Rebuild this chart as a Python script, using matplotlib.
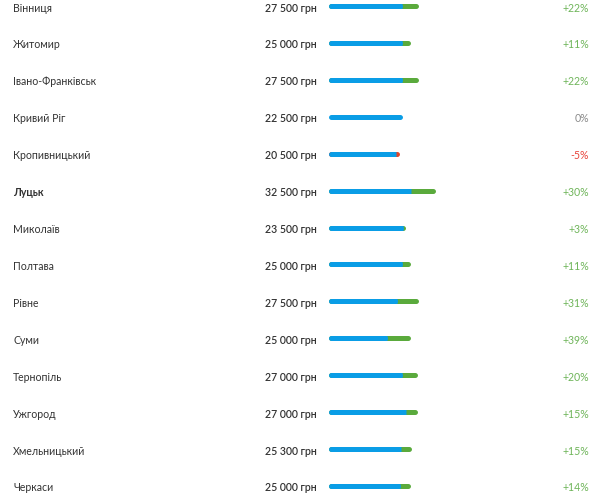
import matplotlib
matplotlib.use("Agg")
import matplotlib.pyplot as plt

plt.rcParams["font.family"] = ["Lato", "DejaVu Sans"]

cities = ["Вінниця", "Житомир", "Івано-Франківськ", "Кривий Ріг", "Кропивницький",
          "Луцьк", "Миколаїв", "Полтава", "Рівне", "Суми", "Тернопіль", "Ужгород",
          "Хмельницький", "Черкаси"]
salaries = [27500, 25000, 27500, 22500, 20500, 32500, 23500, 25000, 27500, 25000,
            27000, 27000, 25300, 25000]
prev_salaries = [22500, 22500, 22500, 22500, 21600, 25000, 22800, 22500, 21000, 18000,
                 22500, 23500, 22000, 21900]
changes = [22, 11, 22, 0, -5, 30, 3, 11, 31, 39, 20, 15, 15, 14]
highlight = "Луцьк"

BLUE = "#0a9de6"
GREEN = "#5aaa3c"
RED = "#e0452b"

W, H = 600, 502
PX = 0.0033          # px per грн
X0 = 328             # px where bars start
ROW0, STEP = 7, 36.92

fig = plt.figure(figsize=(W / 100, H / 100), dpi=100)
fig.patch.set_facecolor("white")
ax = fig.add_axes([0, 0, 1, 1])
ax.set_xlim(-X0 / PX, (W - X0) / PX)
ax.set_ylim((H - ROW0) / STEP, -ROW0 / STEP)
ax.axis("off")

lw = 5 * 72 / 100           # bar thickness in points
r = 2.5 / PX                # cap radius in грн
trans = ax.get_yaxis_transform()
fs = 7.6

for i, (city, cur, prev, ch) in enumerate(zip(cities, salaries, prev_salaries, changes)):
    bold = city == highlight
    ax.text(13 / W, i, city, transform=trans, ha="left", va="center_baseline",
            fontsize=fs, color="#333333", weight="bold" if bold else "normal")
    ax.text(317 / W, i, f"{cur:,} грн".replace(",", " "), transform=trans,
            ha="right", va="center_baseline", fontsize=fs, color="#333333",
            weight="semibold")

    lo, hi = min(cur, prev), max(cur, prev)
    accent = GREEN if cur >= prev else RED
    if ch == 0:
        ax.plot([r, cur - r], [i, i], color=BLUE, lw=lw, solid_capstyle="round")
    else:
        ax.plot([r, hi - r], [i, i], color=accent, lw=lw, solid_capstyle="round")
        ax.plot([r, lo - r], [i, i], color=BLUE, lw=lw, solid_capstyle="round")
        ax.plot([r, lo], [i, i], color=BLUE, lw=lw, solid_capstyle="butt")

    if ch > 0:
        txt, col = f"+{ch}%", "#6fb55a"
    elif ch < 0:
        txt, col = f"{ch}%", "#e8453c"
    else:
        txt, col = "0%", "#8a8a8a"
    ax.text(589 / W, i, txt, transform=trans, ha="right", va="center_baseline",
            fontsize=fs, color=col)

fig.savefig("out.png", dpi=100, facecolor=fig.get_facecolor())
